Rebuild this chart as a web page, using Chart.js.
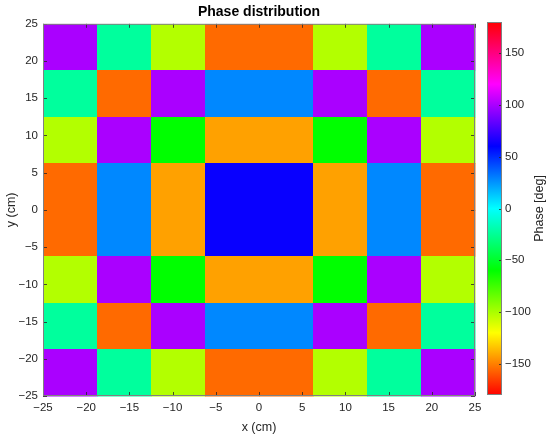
<!DOCTYPE html>
<html>
<head>
<meta charset="utf-8">
<script src="https://cdn.jsdelivr.net/npm/chart.js@4.4.1/dist/chart.umd.min.js"></script>
<style>
  body { margin: 0; background: #fff; }
  #wrap { position: relative; width: 550px; height: 438px; }
  #wrap canvas { position: absolute; left: 0; top: 0; }
  #cbar { pointer-events: none; }
</style>
</head>
<body>
<div id="wrap">
  <canvas id="map" width="550" height="438"></canvas>
  <canvas id="cbar" width="550" height="438"></canvas>
</div>
<script>
// cell edges (cm), 8 x 8 grid
const xEdges = [-25, -18.75, -12.5, -6.25, 0, 6.25, 12.5, 18.75, 25];
const yEdges = [25, 18.75, 12.5, 6.25, 0, -6.25, -12.5, -18.75, -25];
const axisTicks = [-25, -20, -15, -10, -5, 0, 5, 10, 15, 20, 25];
const cbarTicks = [-150, -100, -50, 0, 50, 100, 150];

// phase in degrees, rows listed top (y = 25) to bottom
const row1 = [100, -23, -102, -155, -155, -102, -23, 100];
const row2 = [-23, -155, 100, 28, 28, 100, -155, -23];
const row3 = [-102, 100, -60, -142, -142, -60, 100, -102];
const row4 = [-155, 28, -142, 62, 62, -142, 28, -155];
const row5 = [-155, 28, -142, 62, 62, -142, 28, -155];
const row6 = [-102, 100, -60, -142, -142, -60, 100, -102];
const row7 = [-23, -155, 100, 28, 28, 100, -155, -23];
const row8 = [100, -23, -102, -155, -155, -102, -23, 100];
const phaseRows = [row1, row2, row3, row4, row5, row6, row7, row8];

const textColor = '#262626';
const fontFamily = '"Liberation Sans", Arial, sans-serif';

// hsv colormap spanning -180..180 deg
function phaseColor(v) {
    const h = ((v + 180) / 360) * 360;
    return `hsl(${h}, 100%, 50%)`;
}

function minus(v) {
    return String(v).replace('-', '\u2212');
}

const heatmapPlugin = {
    id: 'heatmap',
    beforeDatasetsDraw(chart) {
        const { ctx, scales: { x, y } } = chart;
        ctx.save();
        phaseRows.forEach((row, i) => {
            row.forEach((val, j) => {
                const x0 = Math.round(x.getPixelForValue(xEdges[j]));
                const x1 = Math.round(x.getPixelForValue(xEdges[j + 1]));
                const y0 = Math.round(y.getPixelForValue(yEdges[i]));
                const y1 = Math.round(y.getPixelForValue(yEdges[i + 1]));
                ctx.fillStyle = phaseColor(val);
                ctx.fillRect(x0, y0, x1 - x0 + 0.5, y1 - y0 + 0.5);
            });
        });
        ctx.restore();
    },
    afterDraw(chart) {
        const { ctx, chartArea: a, scales: { x, y } } = chart;
        ctx.save();
        ctx.strokeStyle = textColor;
        ctx.lineWidth = 0.8;
        ctx.beginPath();
        axisTicks.forEach(t => {
            const px = Math.round(x.getPixelForValue(t)) + 0.5;
            ctx.moveTo(px, a.bottom); ctx.lineTo(px, a.bottom - 4);
            ctx.moveTo(px, a.top); ctx.lineTo(px, a.top + 4);
            const py = Math.round(y.getPixelForValue(t)) + 0.5;
            ctx.moveTo(a.left, py); ctx.lineTo(a.left + 4, py);
            ctx.moveTo(a.right, py); ctx.lineTo(a.right - 4, py);
        });
        ctx.stroke();
        ctx.strokeStyle = '#808080';
        ctx.lineWidth = 1;
        ctx.strokeRect(a.left + 0.5, a.top + 0.5, a.right - a.left - 1, a.bottom - a.top - 1);
        ctx.restore();
    }
};

new Chart(document.getElementById('map'), {
    type: 'scatter',
    data: { datasets: [] },
    options: {
        responsive: false,
        animation: false,
        layout: { padding: { left: 0, right: 75, top: 0, bottom: 0 } },
        plugins: {
            legend: { display: false },
            tooltip: { enabled: false },
            title: {
                display: true,
                text: 'Phase distribution',
                fullSize: false,
                color: '#000',
                font: { family: fontFamily, size: 14, weight: 'bold' },
                padding: { top: 4, bottom: 3 }
            }
        },
        scales: {
            x: {
                type: 'linear',
                min: -25,
                max: 25,
                afterBuildTicks: s => { s.ticks = axisTicks.map(v => ({ value: v })); },
                afterFit: s => { s.height = 42; },
                grid: { display: false, drawTicks: false },
                border: { display: false },
                ticks: {
                    color: textColor,
                    padding: 5,
                    maxRotation: 0,
                    font: { family: fontFamily, size: 11.5 },
                    callback: v => minus(v)
                },
                title: {
                    display: true,
                    text: 'x (cm)',
                    color: textColor,
                    padding: { top: 1, bottom: 3 },
                    font: { family: fontFamily, size: 12.5 }
                }
            },
            y: {
                type: 'linear',
                min: -25,
                max: 25,
                afterBuildTicks: s => { s.ticks = axisTicks.map(v => ({ value: v })); },
                afterFit: s => { s.width = 43; },
                grid: { display: false, drawTicks: false },
                border: { display: false },
                ticks: {
                    color: textColor,
                    padding: 5,
                    font: { family: fontFamily, size: 11.5 },
                    callback: v => minus(v)
                },
                title: {
                    display: true,
                    text: 'y (cm)',
                    color: textColor,
                    padding: { top: 4, bottom: 0 },
                    font: { family: fontFamily, size: 12.5 }
                }
            }
        }
    },
    plugins: [heatmapPlugin]
});

const colorbarPlugin = {
    id: 'colorbar',
    beforeDatasetsDraw(chart) {
        const { ctx, chartArea: a, scales: { y } } = chart;
        const grad = ctx.createLinearGradient(0, y.getPixelForValue(-180), 0, y.getPixelForValue(180));
        for (let v = -180; v <= 180; v += 10) {
            grad.addColorStop((v + 180) / 360, phaseColor(v));
        }
        ctx.save();
        ctx.fillStyle = grad;
        ctx.fillRect(a.left, a.top, a.right - a.left, a.bottom - a.top);
        ctx.restore();
    },
    afterDraw(chart) {
        const { ctx, chartArea: a, scales: { y } } = chart;
        ctx.save();
        ctx.strokeStyle = textColor;
        ctx.lineWidth = 0.8;
        ctx.beginPath();
        cbarTicks.forEach(t => {
            const py = Math.round(y.getPixelForValue(t)) + 0.5;
            ctx.moveTo(a.right, py); ctx.lineTo(a.right - 3, py);
        });
        ctx.stroke();
        ctx.strokeStyle = '#808080';
        ctx.lineWidth = 1;
        ctx.strokeRect(a.left + 0.5, a.top + 0.5, a.right - a.left - 1, a.bottom - a.top - 1);
        // axis label, reading bottom to top
        ctx.translate(540, (a.top + a.bottom) / 2);
        ctx.rotate(-Math.PI / 2);
        ctx.fillStyle = textColor;
        ctx.font = `12.5px ${fontFamily}`;
        ctx.textAlign = 'center';
        ctx.textBaseline = 'middle';
        ctx.fillText('Phase [deg]', 0, 0);
        ctx.restore();
    }
};

new Chart(document.getElementById('cbar'), {
    type: 'scatter',
    data: { datasets: [] },
    options: {
        responsive: false,
        animation: false,
        layout: { padding: { left: 487, right: 0, top: 22, bottom: 43 } },
        plugins: {
            legend: { display: false },
            tooltip: { enabled: false },
            title: { display: false }
        },
        scales: {
            x: { display: false, min: 0, max: 1 },
            y: {
                type: 'linear',
                position: 'right',
                min: -180,
                max: 180,
                afterBuildTicks: s => { s.ticks = cbarTicks.map(v => ({ value: v })); },
                afterFit: s => { s.width = 48; },
                grid: { display: false, drawTicks: false },
                border: { display: false },
                ticks: {
                    color: textColor,
                    padding: 3,
                    font: { family: fontFamily, size: 11.5 },
                    callback: v => minus(v)
                }
            }
        }
    },
    plugins: [colorbarPlugin]
});
</script>
</body>
</html>
